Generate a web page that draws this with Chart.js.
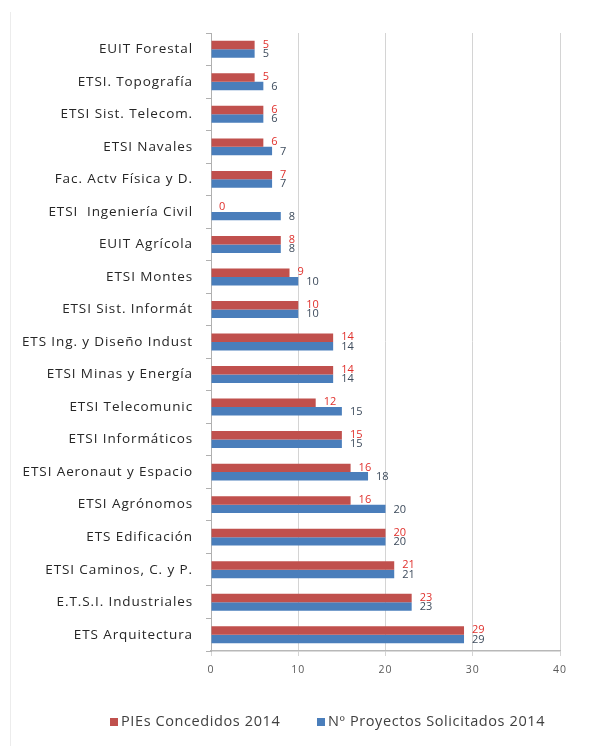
<!DOCTYPE html>
<html>
<head>
<meta charset="utf-8">
<script src="https://cdn.jsdelivr.net/npm/chart.js@4/dist/chart.umd.min.js"></script>
<style>
  html, body { margin: 0; padding: 0; background: #fff; }
  #wrap { width: 590px; height: 749px; position: relative; }
</style>
</head>
<body>
<div id="wrap"><canvas id="pieChart" width="590" height="749"></canvas></div>
<script>
const SCHOOLS = [
  'EUIT Forestal', 'ETSI. Topografía', 'ETSI Sist. Telecom.', 'ETSI Navales',
  'Fac. Actv Física y D.', 'ETSI  Ingeniería Civil', 'EUIT Agrícola', 'ETSI Montes',
  'ETSI Sist. Informát', 'ETS Ing. y Diseño Indust', 'ETSI Minas y Energía',
  'ETSI Telecomunic', 'ETSI Informáticos', 'ETSI Aeronaut y Espacio', 'ETSI Agrónomos',
  'ETS Edificación', 'ETSI Caminos, C. y P.', 'E.T.S.I. Industriales', 'ETS Arquitectura'
];

// PIEs concedidos (red) and proyectos solicitados (blue)
const concedidos = [5, 5, 6, 6, 7, 0, 8, 9, 10, 14, 14, 12, 15, 16, 16, 20, 21, 23, 29];
const solicitados = [5, 6, 6, 7, 7, 8, 8, 10, 10, 14, 14, 15, 15, 18, 20, 20, 21, 23, 29];

const X_TICKS = [0, 10, 20, 30, 40];

const SERIES_NAMES = ['PIEs Concedidos 2014', 'Nº Proyectos Solicitados 2014'];
const RED = '#c0504d';
const BLUE = '#4a7ebb';

// widen the text a bit, the original labels are quite spread out
const spacing = {
  id: 'spacing',
  beforeDraw(chart) {
    chart.ctx.letterSpacing = '0.9px';
  }
};

// value labels at the end of each bar
const valueLabels = {
  id: 'valueLabels',
  afterDatasetsDraw(chart) {
    const ctx = chart.ctx;
    ctx.save();
    ctx.letterSpacing = '0px';
    ctx.font = '11px "Open Sans", sans-serif';
    ctx.textAlign = 'left';
    ctx.textBaseline = 'middle';
    chart.data.datasets.forEach((ds, i) => {
      const meta = chart.getDatasetMeta(i);
      ctx.fillStyle = i === 0 ? '#e0302c' : '#3d4b5c';
      meta.data.forEach((bar, j) => {
        ctx.fillText(String(ds.data[j]), bar.x + 8, bar.y + (i === 0 ? -0.5 : 0.5));
      });
    });
    ctx.restore();
  }
};

// legend drawn by hand so the box sits right next to the text
const bottomLegend = {
  id: 'bottomLegend',
  afterDraw(chart) {
    const ctx = chart.ctx;
    ctx.save();
    ctx.letterSpacing = '0.6px';
    ctx.font = '14.5px "Open Sans", sans-serif';
    ctx.textBaseline = 'middle';
    ctx.fillStyle = RED;
    ctx.fillRect(110, 718, 8, 8);
    ctx.fillStyle = BLUE;
    ctx.fillRect(317, 718, 8, 8);
    ctx.fillStyle = '#404040';
    ctx.fillText(chart.data.datasets[0].label, 121, 722);
    ctx.fillText(chart.data.datasets[1].label, 328, 722);
    ctx.restore();
  }
};

const frameLine = {
  id: 'frameLine',
  beforeDraw(chart) {
    const ctx = chart.ctx;
    ctx.save();
    ctx.strokeStyle = '#ececec';
    ctx.lineWidth = 1;
    ctx.beginPath();
    ctx.moveTo(10.5, 12);
    ctx.lineTo(10.5, 746);
    ctx.stroke();
    ctx.restore();
  }
};

new Chart(document.getElementById('pieChart').getContext('2d'), {
  type: 'bar',
  data: {
    labels: SCHOOLS,
    datasets: [
      {
        label: SERIES_NAMES[0],
        data: concedidos,
        backgroundColor: RED,
        categoryPercentage: 0.52,
        barPercentage: 1
      },
      {
        label: SERIES_NAMES[1],
        data: solicitados,
        backgroundColor: BLUE,
        categoryPercentage: 0.52,
        barPercentage: 1
      }
    ]
  },
  options: {
    indexAxis: 'y',
    responsive: false,
    animation: false,
    layout: { padding: { left: 0, right: 30, top: 33, bottom: 0 } },
    plugins: {
      legend: { display: false },
      tooltip: { enabled: false }
    },
    scales: {
      x: {
        min: 0,
        max: 40,
        afterBuildTicks: (scale) => {
          scale.ticks = X_TICKS.map(v => ({ value: v }));
        },
        afterFit: (scale) => { scale.height = 98; },
        grid: { color: '#d4d4d4', tickLength: 5, drawTicks: true },
        border: { color: '#b8b8b8', width: 1.5 },
        ticks: {
          padding: 8,
          color: '#595959',
          font: { family: '"Open Sans", sans-serif', size: 10.5 }
        }
      },
      y: {
        afterFit: (scale) => { scale.width = 211; },
        grid: { offset: true, drawOnChartArea: false, tickLength: 5, color: '#b0b0b0' },
        border: { color: '#b0b0b0' },
        ticks: {
          autoSkip: false,
          padding: 13,
          color: '#262626',
          font: { family: '"Open Sans", sans-serif', size: 13.5 }
        }
      }
    }
  },
  plugins: [spacing, frameLine, valueLabels, bottomLegend]
});
</script>
</body>
</html>
